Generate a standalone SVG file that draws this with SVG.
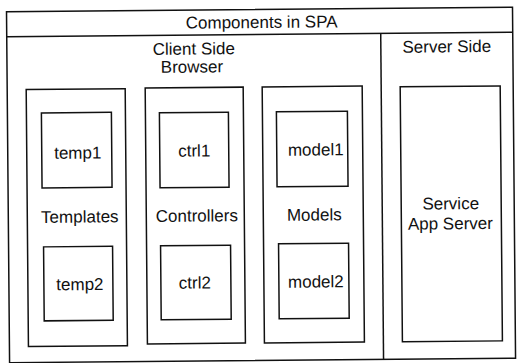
<svg xmlns="http://www.w3.org/2000/svg" width="517" height="363" viewBox="0 0 517 363">
<style>
  .box { fill: none; stroke: #111; stroke-width: 1.5; }
  .line { stroke: #111; stroke-width: 1.5; fill: none; }
  text { font-family: "Liberation Sans", Arial, sans-serif; font-size: 17px; fill: #111; text-anchor: middle; }
</style>
<rect width="517" height="363" fill="#fff"/>
<g transform="rotate(-0.5 258 181)">
  <g id="spa">
    <rect class="box" x="8" y="9.5" width="506" height="351"/>
    <line class="line" x1="8" y1="34.5" x2="514" y2="34.5"/>
    <text x="263" y="28">Components in SPA</text>
  </g>
  <g id="client-side">
    <line class="line" x1="382" y1="34.5" x2="382" y2="360.5"/>
    <text x="195" y="54">Client Side</text>
    <text x="193" y="72">Browser</text>
  </g>
  <g id="server-side">
    <text x="448" y="54">Server Side</text>
  </g>
  <g id="templates">
    <rect class="box" x="27" y="87.5" width="99" height="257"/>
    <text x="79.5" y="221">Templates</text>
  </g>
  <g id="temp1">
    <rect class="box" x="42" y="111" width="70" height="75"/>
    <text x="78" y="157">temp1</text>
  </g>
  <g id="temp2">
    <rect class="box" x="43" y="245" width="69" height="74"/>
    <text x="79" y="288.5">temp2</text>
  </g>
  <g id="controllers">
    <rect class="box" x="146" y="87" width="98" height="256"/>
    <text x="196.5" y="221">Controllers</text>
  </g>
  <g id="ctrl1">
    <rect class="box" x="160" y="112" width="69" height="75"/>
    <text x="194.5" y="156">ctrl1</text>
  </g>
  <g id="ctrl2">
    <rect class="box" x="160" y="245" width="70" height="74"/>
    <text x="194" y="288">ctrl2</text>
  </g>
  <g id="models">
    <rect class="box" x="263" y="87" width="100" height="256"/>
    <text x="314" y="221">Models</text>
  </g>
  <g id="model1">
    <rect class="box" x="277" y="112" width="71" height="75"/>
    <text x="316" y="156">model1</text>
  </g>
  <g id="model2">
    <rect class="box" x="278" y="244" width="70" height="75"/>
    <text x="315" y="288">model2</text>
  </g>
  <g id="service-app-server">
    <rect class="box" x="401" y="88" width="100" height="255"/>
    <text x="450.5" y="211">Service</text>
    <text x="450" y="231">App Server</text>
  </g>
  <g id="connectors"/>
</g>
</svg>
